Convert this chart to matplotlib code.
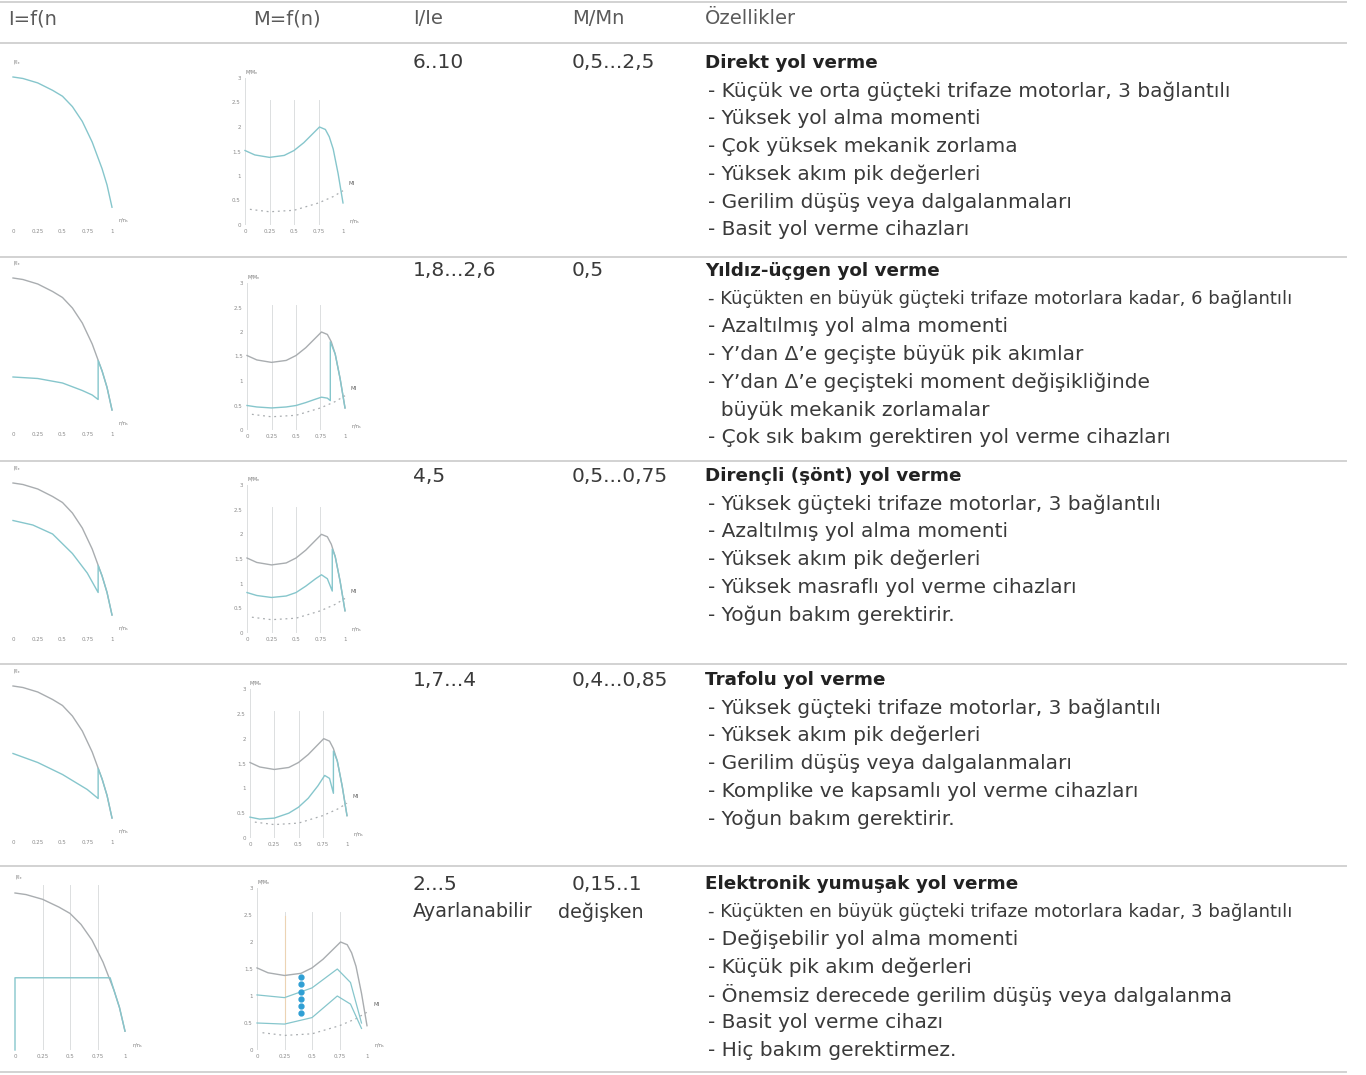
import matplotlib.pyplot as plt
import numpy as np

W, H = 1366, 1075

# ---- table text ----
headers = ['I=f(n', 'M=f(n)', 'I/Ie', 'M/Mn', 'Özellikler']
current_ratio = ['6..10', '1,8...2,6', '4,5', '1,7...4', '2...5']
current_note = ['', '', '', '', 'Ayarlanabilir']
torque_ratio = ['0,5...2,5', '0,5', '0,5...0,75', '0,4...0,85', '0,15..1']
torque_note = ['', '', '', '', 'değişken']
titles = ['Direkt yol verme', 'Yıldız-üçgen yol verme', 'Dirençli (şönt) yol verme',
          'Trafolu yol verme', 'Elektronik yumuşak yol verme']
bullets = [
    ['- Küçük ve orta güçteki trifaze motorlar, 3 bağlantılı',
     '- Yüksek yol alma momenti',
     '- Çok yüksek mekanik zorlama',
     '- Yüksek akım pik değerleri',
     '- Gerilim düşüş veya dalgalanmaları',
     '- Basit yol verme cihazları'],
    ['- Küçükten en büyük güçteki trifaze motorlara kadar, 6 bağlantılı',
     '- Azaltılmış yol alma momenti',
     '- Y’dan Δ’e geçişte büyük pik akımlar',
     '- Y’dan Δ’e geçişteki moment değişikliğinde',
     '  büyük mekanik zorlamalar',
     '- Çok sık bakım gerektiren yol verme cihazları'],
    ['- Yüksek güçteki trifaze motorlar, 3 bağlantılı',
     '- Azaltılmış yol alma momenti',
     '- Yüksek akım pik değerleri',
     '- Yüksek masraflı yol verme cihazları',
     '- Yoğun bakım gerektirir.'],
    ['- Yüksek güçteki trifaze motorlar, 3 bağlantılı',
     '- Yüksek akım pik değerleri',
     '- Gerilim düşüş veya dalgalanmaları',
     '- Komplike ve kapsamlı yol verme cihazları',
     '- Yoğun bakım gerektirir.'],
    ['- Küçükten en büyük güçteki trifaze motorlara kadar, 3 bağlantılı',
     '- Değişebilir yol alma momenti',
     '- Küçük pik akım değerleri',
     '- Önemsiz derecede gerilim düşüş veya dalgalanma',
     '- Basit yol verme cihazı',
     '- Hiç bakım gerektirmez.'],
]

# ---- small chart data ----
n_ticks = [0, 0.25, 0.5, 0.75, 1]
n_tick_labels = ['0', '0.25', '0.5', '0.75', '1']
m_ticks = [0, 0.5, 1, 1.5, 2, 2.5, 3]
m_tick_labels = ['0', '0.5', '1', '1.5', '2', '2.5', '3']

# direct-on-line current and torque
n_I_direct = [0, 0.1, 0.25, 0.4, 0.5, 0.6, 0.7, 0.8, 0.85, 0.9, 0.95, 1.0]
I_direct = [1.0, 0.99, 0.96, 0.91, 0.87, 0.80, 0.70, 0.56, 0.47, 0.38, 0.27, 0.12]
n_M_direct = [0, 0.1, 0.25, 0.4, 0.5, 0.6, 0.7, 0.76, 0.82, 0.86, 0.9, 0.95, 1.0]
M_direct = [1.52, 1.43, 1.38, 1.42, 1.52, 1.68, 1.88, 2.0, 1.95, 1.8, 1.55, 1.05, 0.45]
# load torque (dotted, "Ml")
n_load = [0.05, 0.25, 0.5, 0.75, 0.9, 1.0]
M_load = [0.32, 0.27, 0.30, 0.45, 0.58, 0.70]

# star-delta
n_I_star = [0, 0.25, 0.5, 0.7, 0.8, 0.86, 0.86, 0.9, 0.95, 1.0]
I_star = [0.34, 0.33, 0.30, 0.25, 0.22, 0.19, 0.45, 0.38, 0.27, 0.12]
n_M_star = [0, 0.1, 0.25, 0.4, 0.5, 0.6, 0.7, 0.76, 0.82, 0.85, 0.85, 0.9, 0.95, 1.0]
M_star = [0.5, 0.47, 0.45, 0.47, 0.5, 0.56, 0.63, 0.67, 0.65, 0.6, 1.8, 1.55, 1.05, 0.45]

# resistor (shunt)
n_I_res = [0, 0.2, 0.4, 0.6, 0.75, 0.86, 0.86, 0.9, 0.95, 1.0]
I_res = [0.75, 0.72, 0.66, 0.53, 0.40, 0.27, 0.45, 0.38, 0.27, 0.12]
n_M_res = [0, 0.1, 0.25, 0.4, 0.5, 0.6, 0.7, 0.76, 0.82, 0.87, 0.87, 0.9, 0.95, 1.0]
M_res = [0.82, 0.76, 0.72, 0.75, 0.82, 0.95, 1.1, 1.18, 1.1, 0.85, 1.7, 1.55, 1.05, 0.45]

# autotransformer
n_I_tr = [0, 0.25, 0.5, 0.75, 0.86, 0.86, 0.9, 0.95, 1.0]
I_tr = [0.55, 0.49, 0.41, 0.31, 0.25, 0.45, 0.38, 0.27, 0.12]
n_M_tr = [0, 0.1, 0.25, 0.4, 0.5, 0.6, 0.7, 0.77, 0.82, 0.86, 0.86, 0.9, 0.95, 1.0]
M_tr = [0.42, 0.38, 0.40, 0.50, 0.62, 0.80, 1.05, 1.26, 1.2, 0.9, 1.75, 1.55, 1.05, 0.45]

# soft starter
n_I_soft = [0, 0, 0.865, 0.9, 0.95, 1.0]
I_soft = [0, 0.46, 0.46, 0.38, 0.27, 0.12]
n_M_soft = [0, 0.25, 0.5, 0.73, 0.85, 0.95]
M_soft_hi = [1.02, 0.97, 1.15, 1.5, 1.25, 0.5]
M_soft_lo = [0.5, 0.48, 0.6, 1.0, 0.85, 0.4]
n_soft_dots = [0.4, 0.4, 0.4, 0.4, 0.4, 0.4]
M_soft_dots = [1.35, 1.22, 1.08, 0.95, 0.82, 0.69]

starter_I = [(n_I_direct, I_direct), (n_I_star, I_star), (n_I_res, I_res),
             (n_I_tr, I_tr), (n_I_soft, I_soft)]
starter_M = [(n_M_direct, M_direct), (n_M_star, M_star), (n_M_res, M_res),
             (n_M_tr, M_tr), None]

# ---- layout (pixels) ----
row_title_y = [63, 271, 476, 680, 884]
line_step = 27.8
separators_y = [2, 43, 257, 461, 664, 866, 1072]
col_x = [8, 253, 413, 572, 705]
# I chart: x at n=0, x at n=1, y at I=0, y at I=1
i_box = [(13, 112, 225, 77), (13, 112, 428, 278), (13, 112, 633, 483),
         (13, 112, 836, 686), (15, 125, 1050, 893)]
# M chart: x at n=0, x at n=1, y at M=0, y at M=3
m_box = [(245, 343, 225, 78), (247, 345, 430, 283), (247, 345, 633, 485),
         (250, 347, 838, 689), (257, 367, 1050, 888)]

TEAL = '#86c6cc'
GREY = '#a9adb0'
FAINT = '#dcdfe0'
TXT = '#3a3a3a'
plt.rcParams['font.family'] = ['DejaVu Sans']

fig = plt.figure(figsize=(W / 100, H / 100), dpi=100)
bg = fig.add_axes([0, 0, 1, 1])
bg.set_xlim(0, W)
bg.set_ylim(H, 0)
bg.axis('off')

for y in separators_y:
    bg.plot([0, W - 20], [y, y], color='#d2d2d2', lw=1.4)

for x, h in zip(col_x, headers):
    bg.text(x, 19, h, fontsize=14, color='#5a5a5a', va='center')

for r in range(5):
    y0 = row_title_y[r]
    bg.text(413, y0, current_ratio[r], fontsize=14.5, color=TXT, va='center')
    bg.text(413, y0 + line_step, current_note[r], fontsize=13.8, color=TXT, va='center')
    bg.text(572, y0, torque_ratio[r], fontsize=14.5, color=TXT, va='center')
    bg.text(558, y0 + line_step, torque_note[r], fontsize=13.8, color=TXT, va='center')
    bg.text(705, y0, titles[r], fontsize=13.2, color='#222222', va='center',
            fontweight='bold')
    for k, line in enumerate(bullets[r]):
        size = 13 if len(line) > 58 else 14.5
        bg.text(708, y0 + (k + 1) * line_step, line, fontsize=size, color=TXT,
                va='center')


def px_axes(x0, x1, ytop, ybot):
    return fig.add_axes([x0 / W, 1 - ybot / H, (x1 - x0) / W, (ybot - ytop) / H])


def style_small(ax, ylim, yticks=None, ylabels=None):
    ax.set_xlim(0, 1)
    ax.set_ylim(*ylim)
    ax.patch.set_visible(False)
    for s in ax.spines.values():
        s.set_visible(False)
    ax.set_xticks(n_ticks)
    ax.set_xticklabels(n_tick_labels)
    if yticks is None:
        ax.set_yticks([])
    else:
        ax.set_yticks(yticks)
        ax.set_yticklabels(ylabels)
    ax.tick_params(length=0, labelsize=4, colors='#8a8a8a', pad=3)


for r in range(5):
    # current chart
    x0, x1, yz, y1 = i_box[r]
    ax = px_axes(x0, x1, yz - 1.05 * (yz - y1), yz)
    style_small(ax, (0, 1.05))
    if r == 4:
        for n in n_ticks[1:]:
            ax.axvline(n, color=FAINT, lw=0.7, zorder=0)
    if r == 0:
        ax.plot(n_I_direct, I_direct, color=TEAL, lw=1.0, clip_on=False)
    else:
        ax.plot(n_I_direct, I_direct, color=GREY, lw=1.0, clip_on=False)
        nn, ii = starter_I[r]
        ax.plot(nn, ii, color=TEAL, lw=1.0, clip_on=False)
    ax.text(0.0, 1.04, 'I/Iₑ', fontsize=3.5, color='#777777', transform=ax.transAxes)
    ax.text(1.07, 0.02, 'n/nₛ', fontsize=3.5, color='#777777', transform=ax.transAxes)

    # torque chart
    x0, x1, yz, y3 = m_box[r]
    ax = px_axes(x0, x1, y3, yz)
    style_small(ax, (0, 3), m_ticks, m_tick_labels)
    ax.axvline(0, color=FAINT, lw=0.7, zorder=0)
    for n in [0.25, 0.5, 0.75]:
        ax.axvline(n, ymax=0.85, color=FAINT, lw=0.7, zorder=0)
    ax.plot(n_load, M_load, ls=(0, (1.5, 3)), color=GREY, lw=0.9, clip_on=False)
    if r == 0:
        ax.plot(n_M_direct, M_direct, color=TEAL, lw=1.0, clip_on=False)
    elif r < 4:
        ax.plot(n_M_direct, M_direct, color=GREY, lw=1.0, clip_on=False)
        nn, mm = starter_M[r]
        ax.plot(nn, mm, color=TEAL, lw=1.0, clip_on=False)
    else:
        ax.axvline(0.25, ymin=0.17, ymax=0.83, color='#ecd3b4', lw=0.8, zorder=0)
        ax.plot(n_M_direct, M_direct, color=GREY, lw=1.0, clip_on=False)
        ax.plot(n_M_soft, M_soft_hi, color=TEAL, lw=0.9, clip_on=False)
        ax.plot(n_M_soft, M_soft_lo, color=TEAL, lw=0.9, clip_on=False)
        ax.plot(n_soft_dots, M_soft_dots, 'o', color='#2f9fd4', ms=3.5, clip_on=False)
    ax.text(0.0, 1.03, 'M/Mₙ', fontsize=3.5, color='#777777', transform=ax.transAxes)
    ax.text(1.07, 0.02, 'n/nₛ', fontsize=3.5, color='#777777', transform=ax.transAxes)
    ax.text(1.06, 0.27, 'Ml', fontsize=4, color='#666666', transform=ax.transAxes)

fig.savefig('out.png', dpi=100, facecolor='white')
